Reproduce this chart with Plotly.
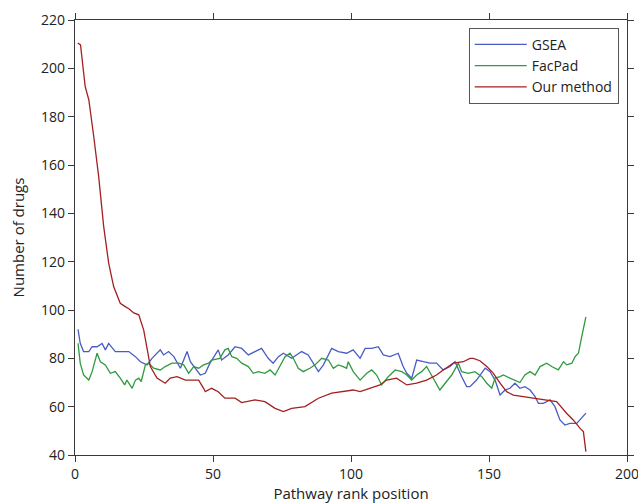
import plotly.graph_objects as go

# Data: (pathway rank position, number of drugs)
gsea = [(1.1,92),(1.9,86.2),(3.1,82.8),(5,82.8),(6.2,84.8),(8,84.8),(9.8,86.2),(11,83.5),(12.2,86.2),
        (14.6,82.8),(17,82.8),(19.5,82.8),(21.9,80.7),(23.7,78.6),(26.1,77.3),(27.9,80),(30.9,83.5),
        (32.1,81.4),(33.9,82.8),(35.8,80.7),(38.2,75.9),(40.6,82.8),(41.8,78.6),(43.6,75.9),(45.4,73.1),
        (47.2,73.8),(48.9,78),(51.9,83.5),(53.1,79.3),(55.5,81.4),(58,84.8),(60.4,84.1),(62.8,81.4),
        (65.2,82.8),(67.6,84.1),(70,80),(71.8,78),(73.7,80.7),(75.5,82.1),(78.5,80),(82.1,82.8),
        (84.5,81.4),(86.3,78),(88.2,74.5),(90,77.3),(93,84.1),(95.4,82.8),(98.4,82.1),(100.8,83.5),
        (103.3,80),(105.1,84.1),(107.5,84.1),(109.9,84.8),(111.7,81.4),(114.1,80.7),(117.1,82.1),
        (118.9,76.6),(120.2,73.8),(122,71.8),(123.8,79.3),(126.2,78.6),(128.6,78),(131,78),(133.4,75.2),
        (135.9,76.6),(137.7,78.6),(140.1,72.4),(141.9,68.3),(143.1,68.3),(145.5,71),(148.6,75.9),
        (150.4,74.5),(152.2,71),(154,64.8),(155.8,66.9),(157.6,67.6),(159.4,69.7),(161.2,67.6),
        (163,68.3),(164.9,66.9),(166.7,64.2),(167.9,61.4),(169.7,61.4),(172.1,62.8),(173.9,60),
        (175.7,54.5),(177.5,52.4),(179.3,53.1),(181.8,53.1),(183.6,55.2),(185.1,57.3)]

facpad = [(1.1,86.2),(1.9,78),(3.1,73.1),(5,71),(6.2,74.5),(8,82.1),(9.2,78.6),(11,77.3),(12.8,73.8),
          (14.6,74.5),(16.4,71.8),(18,69),(18.8,71),(20.7,67.6),(21.9,71),(23.1,71.8),(24,70.4),
          (25.5,77.3),(26.7,78),(28.5,75.9),(30.9,75.2),(32.7,76.6),(35.1,78),(37.6,78),(39.4,77.3),
          (41.2,73.8),(43,76.6),(44.8,75.9),(46.6,77.3),(48.4,78),(49.5,79.3),(52.5,80),(54.3,83.5),
          (55.5,84.1),(56.8,80.7),(58.6,80),(60.4,78),(62.8,76.6),(64.6,73.8),(66.4,74.5),(68.8,73.8),
          (70.7,75.2),(72.5,73.1),(74.3,76.6),(76.1,80.7),(77.9,82.1),(79.1,80),(80.9,75.9),(82.7,74.5),
          (85.1,75.9),(87,77.3),(89.4,80),(91.8,79.3),(93.6,75.9),(95.4,77.3),(97.2,76.6),(98.4,75.9),
          (99,78.6),(100.8,74.5),(103.3,71),(105.7,73.8),(107.5,75.2),(109.3,73.1),(111.1,69),
          (113.5,72.4),(116,75.2),(118.4,74.5),(120.2,73.1),(122,71),(123.8,73.1),(125.6,74.5),
          (127.4,76.6),(129.2,73.1),(131,69.7),(132.2,66.9),(134.1,69.7),(136.5,73.1),(138.9,78),
          (140.1,74.5),(142.5,73.8),(144.9,74.5),(147.4,72.4),(149.2,69.7),(151,67.6),(152.2,71.8),
          (154,72.4),(155.2,73.1),(157.6,71.8),(160,70.4),(161.2,70),(163,73.1),(164.9,74.5),
          (166.7,73.1),(168.5,76.6),(170.9,78),(172.7,76.6),(175.1,75.2),(177,78.6),(178.2,77.3),
          (180,78),(181.2,80.7),(182.4,82.1),(183.6,89),(185.1,97.2)]

our_method = [(1,210.5),(2,209.7),(3.7,192.4),(5,187),(6.8,171.7),(8.6,155),(10.4,134.5),(12.2,119.4),
              (14,109.7),(16.4,102.8),(18.2,101.4),(19.5,100.5),(21.3,98.8),(23.1,98),(24.9,91.7),
              (26.1,83.5),(27.3,76.6),(29.7,71.8),(32.7,69.7),(34.5,71.8),(37,72.4),(40,71),(44.8,71),
              (46.6,67.6),(47.2,66.2),(49.5,67.6),(51.9,66.2),(54.3,63.5),(58,63.5),(60.4,61.7),
              (65.2,62.8),(68.8,62.1),(72.5,59.3),(75.5,58),(78.5,59.3),(83.3,60),(88.2,63.5),(93,65.6),
              (96,66.2),(100.8,66.9),(103.3,66.2),(106.9,67.6),(110.5,69),(112.9,71),(116.5,71.8),
              (120.2,69),(123.8,69.7),(127.4,71),(131,73.1),(133.4,75.2),(137.1,78),(140.7,78.6),
              (143.1,80),(144.3,80),(146.7,79),(149.2,76.6),(151.6,73.8),(154,69.7),(156.4,66.2),
              (158.8,64.8),(162.4,64.2),(167.3,63.5),(169.7,62.8),(174.5,62.1),(178.1,57.3),(180.5,54.5),
              (183,51),(184.2,49.7),(185.1,41.4)]

series_names = ["GSEA", "FacPad", "Our method"]
series_colors = ["#4a5cc4", "#2f9a3e", "#a32020"]
x_ticks = [0, 50, 100, 150, 200]
y_ticks = [40, 60, 80, 100, 120, 140, 160, 180, 200, 220]

FONT = "Open Sans, Lato, DejaVu Sans, sans-serif"

fig = go.Figure()
for name, color, data in zip(series_names, series_colors, [gsea, facpad, our_method]):
    fig.add_trace(go.Scatter(
        x=[p[0] for p in data], y=[p[1] for p in data],
        mode="lines", name=name,
        line=dict(color=color, width=1.3),
    ))

axis_common = dict(
    showline=True, linecolor="#3a3a3a", linewidth=1.2, mirror="ticks",
    ticks="outside", ticklen=6, tickwidth=1.2, tickcolor="#3a3a3a",
    showgrid=False, zeroline=False, automargin=False, ticklabeloverflow="allow",
    tickfont=dict(family=FONT, size=14, color="#222"),
)

fig.update_layout(
    width=638, height=503,
    margin=dict(l=75, r=11, t=20, b=48),
    paper_bgcolor="white", plot_bgcolor="white",
    font=dict(family=FONT, size=14, color="#222"),
    xaxis=dict(range=[0, 200], tickvals=x_ticks,
               title=dict(text="Pathway rank position", font=dict(family=FONT, size=15, color="#222"),
                          standoff=10),
               **axis_common),
    yaxis=dict(range=[40, 220], tickvals=y_ticks,
               title=dict(text="Number of drugs", font=dict(family=FONT, size=15, color="#222"),
                          standoff=12),
               **axis_common),
    legend=dict(x=0.985, y=0.982, xanchor="right", yanchor="top",
                bgcolor="white", bordercolor="#555", borderwidth=1,
                font=dict(family=FONT, size=14, color="#222"),
                tracegroupgap=0, itemwidth=52),
    showlegend=True,
)

fig.write_html("out.html")
